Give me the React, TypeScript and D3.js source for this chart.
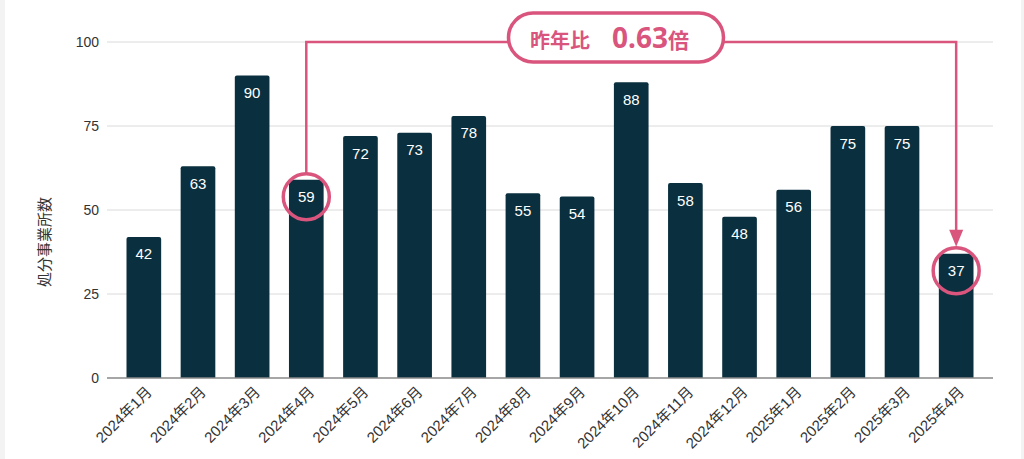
import React from "react";
import * as d3 from "d3";

const categories = [
  "2024年1月", "2024年2月", "2024年3月", "2024年4月", "2024年5月", "2024年6月",
  "2024年7月", "2024年8月", "2024年9月", "2024年10月", "2024年11月", "2024年12月",
  "2025年1月", "2025年2月", "2025年3月", "2025年4月",
];
const values = [42, 63, 90, 59, 72, 73, 78, 55, 54, 88, 58, 48, 56, 75, 75, 37];
const yTicks = [0, 25, 50, 75, 100];
const yTitle = "処分事業所数";
const ratioLabel = "昨年比";
const ratioValue = "0.63";
const ratioUnit = "倍";
const fromIndex = 3;
const toIndex = 15;

const W = 1024;
const H = 459;
const PLOT_L = 107;
const PLOT_R = 993;
const PLOT_T = 42;
const PLOT_B = 378;

const BAR = "#0a2f3e";
const PINK = "#d9557d";
const FONT = "'Liberation Sans', Arial, 'Noto Sans CJK JP', sans-serif";
const JFONT = "'Noto Sans CJK JP', 'Noto Sans', sans-serif";

export default function App() {
  const x = d3
    .scaleBand<string>()
    .domain(categories)
    .range([PLOT_L, PLOT_R])
    .paddingInner(0.36)
    .paddingOuter(0.36);
  const y = d3.scaleLinear().domain([0, 100]).range([PLOT_B, PLOT_T]);
  const bw = x.bandwidth();

  const barPath = (i: number) => {
    const x0 = x(categories[i])!;
    const y0 = y(values[i]);
    const r = 2;
    const p = d3.path();
    p.moveTo(x0, PLOT_B);
    p.lineTo(x0, y0 + r);
    p.quadraticCurveTo(x0, y0, x0 + r, y0);
    p.lineTo(x0 + bw - r, y0);
    p.quadraticCurveTo(x0 + bw, y0, x0 + bw, y0 + r);
    p.lineTo(x0 + bw, PLOT_B);
    p.closePath();
    return p.toString();
  };

  const cx = (i: number) => x(categories[i])! + bw / 2;
  const labelY = (i: number) => y(values[i]) + 17;

  const ax = cx(fromIndex);
  const bx = cx(toIndex);
  const ay = labelY(fromIndex);
  const by = labelY(toIndex);
  const R = 23;
  const lineY = y(100);
  const arrowLen = 17;
  const arrowHalf = 7;
  const tipY = by - R - 1;

  const pillCx = 616;
  const pillCy = 37.5;
  const pillW = 215;
  const pillH = 49;

  return (
    <svg
      width={W}
      height={H}
      style={{ position: "absolute", left: 0, top: 0, display: "block" }}
    >
      <rect x={0} y={0} width={W} height={H} fill="#f3f3f3" />
      <rect x={5} y={0} width={1016} height={H} fill="#ffffff" />

      {yTicks.filter((t) => t > 0).map((t) => (
        <line key={t} x1={PLOT_L} x2={PLOT_R} y1={y(t)} y2={y(t)} stroke="#dadada" strokeWidth={1} />
      ))}
      {yTicks.map((t) => (
        <text
          key={"t" + t}
          x={99}
          y={y(t)}
          textAnchor="end"
          dominantBaseline="central"
          fontFamily={FONT}
          fontSize={14}
          fill="#333"
        >
          {t}
        </text>
      ))}

      <text
        transform={`translate(43, 242) rotate(-90)`}
        textAnchor="middle"
        dominantBaseline="central"
        fontFamily={JFONT}
        fontSize={15}
        fill="#333"
      >
        {yTitle}
      </text>

      {values.map((v, i) => (
        <path key={"b" + i} d={barPath(i)} fill={BAR} />
      ))}
      <line x1={PLOT_L} x2={PLOT_R} y1={PLOT_B} y2={PLOT_B} stroke="#888" strokeWidth={1.5} />

      {values.map((v, i) => (
        <text
          key={"v" + i}
          x={cx(i)}
          y={labelY(i)}
          textAnchor="middle"
          dominantBaseline="central"
          fontFamily={FONT}
          fontSize={15}
          fill="#ffffff"
        >
          {v}
        </text>
      ))}

      {categories.map((c, i) => (
        <text
          key={"c" + i}
          transform={`translate(${cx(i) + 9}, ${PLOT_B + 15}) rotate(-45)`}
          textAnchor="end"
          fontFamily={FONT}
          fontSize={15}
          fill="#333"
        >
          {c}
        </text>
      ))}

      {/* annotation */}
      <path
        d={`M${ax},${ay - R} L${ax},${lineY} L${bx},${lineY} L${bx},${tipY - arrowLen + 2}`}
        fill="none"
        stroke={PINK}
        strokeWidth={2.5}
      />
      <path
        d={`M${bx - arrowHalf},${tipY - arrowLen} L${bx + arrowHalf},${tipY - arrowLen} L${bx},${tipY} Z`}
        fill={PINK}
      />
      <circle cx={ax} cy={ay} r={R} fill="none" stroke={PINK} strokeWidth={3.5} />
      <circle cx={bx} cy={by} r={R} fill="none" stroke={PINK} strokeWidth={3.5} />

      <rect
        x={pillCx - pillW / 2}
        y={pillCy - pillH / 2}
        width={pillW}
        height={pillH}
        rx={pillH / 2}
        fill="#ffffff"
        stroke={PINK}
        strokeWidth={3.5}
      />
      <text x={530} y={48} fontFamily={JFONT} fontWeight={700} fill={PINK}>
        <tspan fontSize={20}>{ratioLabel}</tspan>
        <tspan dx={22} fontSize={28} fontFamily="'Noto Sans', sans-serif">{ratioValue}</tspan>
        <tspan fontSize={21}>{ratioUnit}</tspan>
      </text>
    </svg>
  );
}
